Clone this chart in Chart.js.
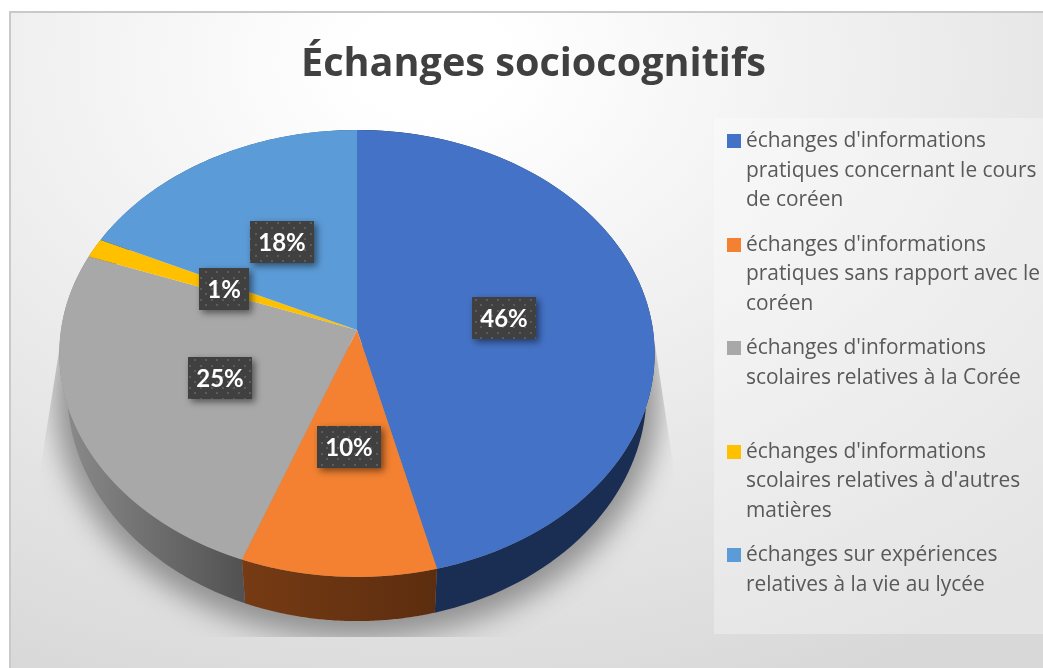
<!DOCTYPE html>
<html lang="fr">
<head>
<meta charset="utf-8">
<title>Échanges sociocognitifs</title>
<script src="https://cdn.jsdelivr.net/npm/chart.js@4"></script>
<style>
    html, body { margin: 0; padding: 0; width: 1043px; height: 668px; overflow: hidden; background: #fff; }
    #frame {
        position: absolute; left: 9px; top: 11px; width: 1060px; height: 700px;
        border: 2px solid #c9c9c9; box-sizing: border-box;
        background: radial-gradient(ellipse 950px 680px at 420px 50px, #fff 0%, #fff 8%, #d8d8d8 100%);
    }
    #pieChart { position: absolute; left: 0; top: 0; }
    #legend {
        position: absolute; left: 714px; top: 118px; width: 329px; height: 516px;
        background: rgba(255, 255, 255, 0.3); box-sizing: border-box; padding-top: 7px;
        font: 20.9px/29.5px "Open Sans", sans-serif; color: #595959;
    }
    .legend-item { position: relative; height: 103.5px; padding-left: 32px; white-space: pre-line; }
    .legend-color { position: absolute; left: 13px; top: 9px; width: 14px; height: 14px; }
</style>
</head>
<body>
<div id="frame"></div>
<canvas id="pieChart" width="1043" height="668"></canvas>
<div id="legend"></div>
<script>
const title = 'Échanges sociocognitifs';
const categories = [
    "échanges d'informations\npratiques concernant le cours\nde coréen",
    "échanges d'informations\npratiques sans rapport avec le\ncoréen",
    "échanges d'informations\nscolaires relatives à la Corée",
    "échanges d'informations\nscolaires relatives à d'autres\nmatières",
    "échanges sur expériences\nrelatives à la vie au lycée"
];
const percentages = [46.1, 9.6, 24.9, 1.4, 18];
const sliceColors = ['#4472c6', '#f38131', '#a8a8a8', '#ffc000', '#5b9bd7'];
const wallColors = [['#1a2d52', '#1a2d52'], ['#763b14', '#5c2d0f'], ['#8c8c8c', '#525252'], ['#7f6000', '#7f6000'], ['#2d4d6b', '#2d4d6b']];

// Perspective du disque : le centre n'est pas au milieu de l'ellipse
const PERSPECTIVE = -0.105;
const topDisc = { x: 357, y: 330, rx: 296, ry: 221 };
const baseDisc = { x: 357, y: 368, rx: 288, ry: 226.5 };
const LABEL_RADIUS = 0.5;

function project(disc, angle, radius = 1) {
    const u = Math.cos(angle) * radius;
    const v = Math.sin(angle) * radius;
    const w = 1 + PERSPECTIVE * v;
    return { x: disc.x + disc.rx * u / w, y: disc.y + disc.ry * v / w };
}

function dotPattern(ctx) {
    const tile = document.createElement('canvas');
    tile.width = 11;
    tile.height = 11;
    const t = tile.getContext('2d');
    t.fillStyle = '#404040';
    t.fillRect(0, 0, 11, 11);
    t.fillStyle = '#5c5c5c';
    t.fillRect(2, 2, 2, 2);
    t.fillRect(7, 7, 2, 2);
    return ctx.createPattern(tile, 'repeat');
}

function drawShadow(ctx) {
    ctx.save();
    ctx.beginPath();
    ctx.moveTo(60, 345);
    ctx.lineTo(37, 490);
    ctx.lineTo(37, 637);
    ctx.lineTo(677, 637);
    ctx.lineTo(677, 490);
    ctx.lineTo(655, 345);
    ctx.closePath();
    ctx.clip();
    ctx.filter = 'blur(14px)';
    ctx.fillStyle = '#909090';
    ctx.beginPath();
    ctx.ellipse(357, 398, 302, 241, 0, 0, Math.PI * 2);
    ctx.fill();
    ctx.restore();
}

function drawWalls(ctx, arcs) {
    arcs.forEach((arc, i) => {
        const steps = 90;
        const angles = [];
        for (let k = 0; k <= steps; k++) {
            angles.push(arc.startAngle + (arc.endAngle - arc.startAngle) * k / steps);
        }
        const top = angles.map(a => project(topDisc, a));
        const base = angles.map(a => project(baseDisc, a)).reverse();
        const xs = top.map(p => p.x);
        const grad = ctx.createLinearGradient(Math.min(...xs), 0, Math.max(...xs), 0);
        grad.addColorStop(0, wallColors[i][0]);
        grad.addColorStop(1, wallColors[i][1]);
        ctx.fillStyle = grad;
        ctx.beginPath();
        top.concat(base).forEach((p, k) => k ? ctx.lineTo(p.x, p.y) : ctx.moveTo(p.x, p.y));
        ctx.closePath();
        ctx.fill();
    });
}

// Chart.js dessine les arcs, une ligne de pixels à la fois, à travers la perspective
function drawTop(ctx, arcs, chart) {
    const R = arcs[0].outerRadius;
    const cx = arcs[0].x;
    const cy = arcs[0].y;
    for (let row = 120; row < 590; row++) {
        const w = (row + 0.5 - topDisc.y) / topDisc.ry;
        const v = w / (1 - PERSPECTIVE * w);
        if (Math.abs(v) > 1.01) continue;
        const s = 1 / (1 + PERSPECTIVE * v);
        const a = topDisc.rx * s / R;
        const d = topDisc.ry * s * s / R;
        ctx.save();
        ctx.beginPath();
        ctx.rect(0, row, chart.width, 1);
        ctx.clip();
        ctx.setTransform(a, 0, 0, d, topDisc.x - a * cx, row + 0.5 - d * (cy + v * R));
        arcs.forEach(arc => arc.draw(ctx));
        ctx.restore();
    }
}

const perspectivePie = {
    id: 'perspectivePie',
    beforeDatasetDraw(chart, args) {
        const ctx = chart.ctx;
        const arcs = args.meta.data;
        drawShadow(ctx);
        drawWalls(ctx, arcs);
        drawTop(ctx, arcs, chart);
        return false;
    },
    afterDatasetsDraw(chart) {
        const ctx = chart.ctx;
        const arcs = chart.getDatasetMeta(0).data;
        const fill = dotPattern(ctx);
        ctx.save();
        ctx.font = 'bold 24px Lato, sans-serif';
        ctx.textAlign = 'center';
        ctx.textBaseline = 'middle';
        arcs.forEach((arc, i) => {
            const text = Math.round(percentages[i]) + '%';
            const p = project(topDisc, (arc.startAngle + arc.endAngle) / 2, LABEL_RADIUS);
            const w = Math.round(ctx.measureText(text).width + 16);
            const x = Math.round(p.x - w / 2 + 1);
            const y = Math.round(p.y - 20);
            ctx.save();
            ctx.shadowColor = 'rgba(0, 0, 0, 0.5)';
            ctx.shadowBlur = 7;
            ctx.shadowOffsetX = 3;
            ctx.shadowOffsetY = 3;
            ctx.fillStyle = fill;
            ctx.fillRect(x, y, w, 42);
            ctx.restore();
            ctx.fillStyle = '#fff';
            ctx.fillText(text, x + w / 2, y + 22);
        });
        ctx.restore();
    }
};

document.getElementById('legend').innerHTML = categories.map((label, i) => `
    <div class="legend-item"><span class="legend-color" style="background: ${sliceColors[i]}"></span>${label}</div>
`.trim()).join('');

new Chart(document.getElementById('pieChart'), {
    type: 'pie',
    data: {
        labels: categories,
        datasets: [{
            data: percentages,
            backgroundColor: sliceColors,
            borderWidth: 0
        }]
    },
    options: {
        responsive: false,
        devicePixelRatio: 1,
        animation: false,
        layout: { padding: { left: 24 } },
        plugins: {
            legend: { display: false },
            tooltip: { enabled: false },
            title: {
                display: true,
                text: title,
                color: '#404040',
                font: { family: '"Open Sans", sans-serif', size: 39.6, weight: '700' },
                padding: { top: 41, bottom: 10 }
            }
        }
    },
    plugins: [perspectivePie]
});
</script>
</body>
</html>
